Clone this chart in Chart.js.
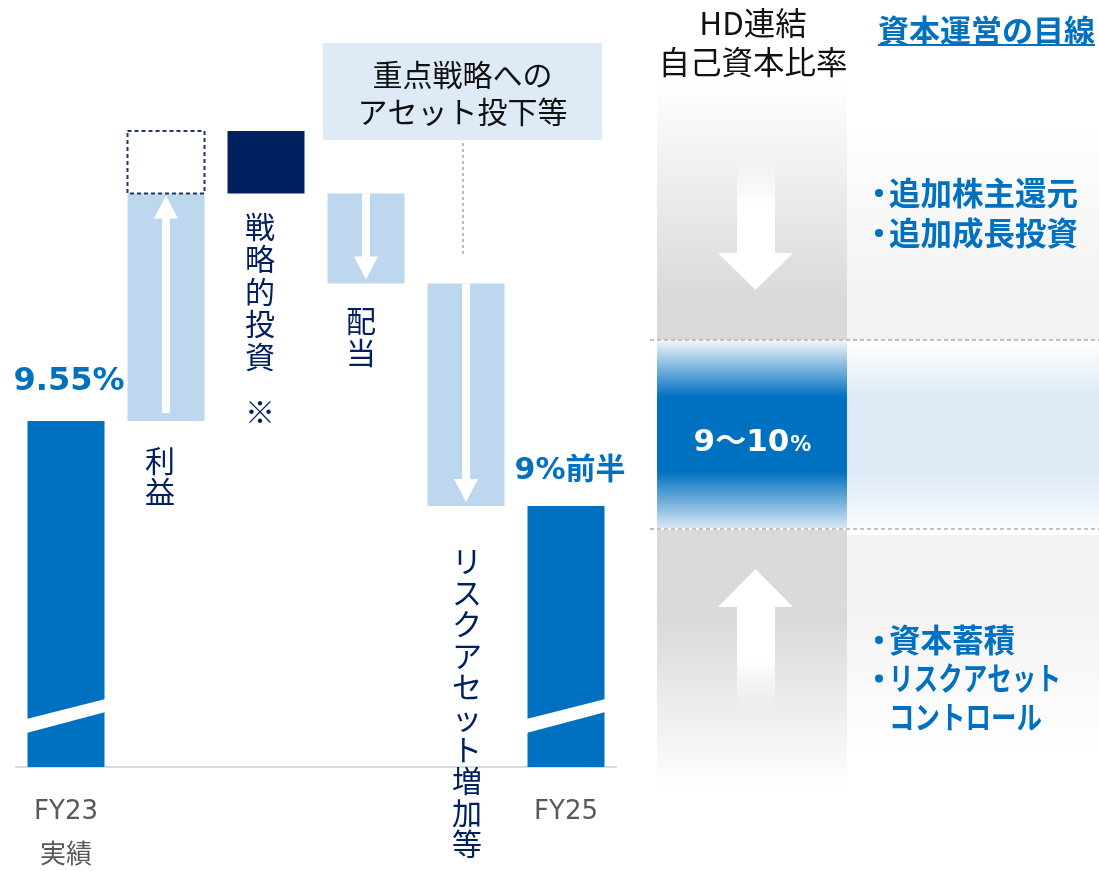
<!DOCTYPE html>
<html lang="ja">
<head>
<meta charset="utf-8">
<script src="https://cdn.jsdelivr.net/npm/chart.js@4"></script>
<style>
html, body { margin: 0; padding: 0; background: #fff; overflow: hidden; }
</style>
</head>
<body>
<canvas id="chart" width="1099" height="871"></canvas>
<script>
// categories of the waterfall
const categories = ['FY23', '利益', '戦略的投資', '配当', 'リスクアセット増加等', 'FY25'];
const tickLabels = [['FY23', '実績'], '', '', '', '', 'FY25'];
// first = FY23 result, then step changes (pt), null = FY25 total
const stepChange = [9.55, 0.91, -0.25, -0.36, -0.89, null];
// part of the profit step drawn as a dashed box
const dashedChange = [null, 0.25, null, null, null, null];
const valueLabels = ['9.55%', '', '', '', '', '9%前半'];
const noteMarks = ['', '', '※', '', '', ''];
// truncated axis (the total bars are drawn broken)
const axisRange = [8.166, 11.234];

const topNote = ['重点戦略への', 'アセット投下等'];
const panelTitle = ['HD連結', '自己資本比率'];
const panelHeading = '資本運営の目線';
const targetRange = ['9～10', '%'];
const upperActions = ['追加株主還元', '追加成長投資'];
const lowerActions = ['資本蓄積', 'リスクアセット', 'コントロール'];

const barColors = ['#0070c0', '#bdd7ee', '#002060', '#bdd7ee', '#bdd7ee', '#0070c0'];
const arrowOn = [false, true, false, true, true, false];
const JP = '"Noto Sans CJK JP", "Noto Sans", sans-serif';
const BLUE = '#0070c0';
const NAVY = '#002060';

// build floating bars from the steps
const solid = [], dashed = [];
let level = 0;
stepChange.forEach((d, i) => {
  if (i === 0 || d === null) {
    if (i === 0) level = d;
    solid.push([axisRange[0], level]);
    dashed.push(null);
  } else {
    const a = level, b = level + d;
    solid.push([Math.min(a, b), Math.max(a, b)]);
    level = b;
    if (dashedChange[i] != null) {
      dashed.push([level, level + dashedChange[i]]);
      level += dashedChange[i];
    } else {
      dashed.push(null);
    }
  }
});

function vText(ctx, str, x, y0, step) {
  [...str].forEach((ch, i) => ctx.fillText(ch, x, y0 + i * step));
}

function drawPanel(ctx) {
  let g;
  // upper band
  g = ctx.createLinearGradient(0, 80, 0, 340);
  g.addColorStop(0, '#ffffff'); g.addColorStop(0.85, '#d9d9d9'); g.addColorStop(1, '#d9d9d9');
  ctx.fillStyle = g; ctx.fillRect(657, 80, 190, 260);
  g = ctx.createLinearGradient(0, 120, 0, 340);
  g.addColorStop(0, '#ffffff'); g.addColorStop(0.8, '#f2f2f2'); g.addColorStop(1, '#f2f2f2');
  ctx.fillStyle = g; ctx.fillRect(847, 120, 252, 220);
  // target band
  g = ctx.createLinearGradient(0, 341, 0, 528);
  g.addColorStop(0, '#eef4fa'); g.addColorStop(0.3, BLUE); g.addColorStop(0.7, BLUE); g.addColorStop(1, '#d8e7f4');
  ctx.fillStyle = g; ctx.fillRect(657, 341, 190, 187);
  g = ctx.createLinearGradient(0, 341, 0, 528);
  g.addColorStop(0, '#ffffff'); g.addColorStop(0.3, '#dde9f5'); g.addColorStop(0.7, '#dde9f5'); g.addColorStop(1, '#fafcfe');
  ctx.fillStyle = g; ctx.fillRect(847, 341, 252, 187);
  // lower band
  g = ctx.createLinearGradient(0, 530, 0, 790);
  g.addColorStop(0, '#d9d9d9'); g.addColorStop(0.35, '#dadada'); g.addColorStop(1, '#ffffff');
  ctx.fillStyle = g; ctx.fillRect(657, 530, 190, 260);
  g = ctx.createLinearGradient(0, 535, 0, 755);
  g.addColorStop(0, '#f2f2f2'); g.addColorStop(0.3, '#f2f2f2'); g.addColorStop(1, '#ffffff');
  ctx.fillStyle = g; ctx.fillRect(847, 535, 252, 220);

  // dashed band limits
  ctx.save();
  ctx.strokeStyle = '#bfbfbf'; ctx.lineWidth = 2; ctx.setLineDash([4, 3]);
  [340, 529].forEach(y => { ctx.beginPath(); ctx.moveTo(650, y); ctx.lineTo(1099, y); ctx.stroke(); });
  ctx.restore();

  // down arrow
  g = ctx.createLinearGradient(0, 155, 0, 205);
  g.addColorStop(0, 'rgba(255,255,255,0)'); g.addColorStop(1, '#ffffff');
  ctx.fillStyle = g;
  ctx.beginPath();
  ctx.moveTo(737, 155); ctx.lineTo(775, 155); ctx.lineTo(775, 253); ctx.lineTo(793, 253);
  ctx.lineTo(755.5, 290); ctx.lineTo(718, 253); ctx.lineTo(737, 253); ctx.closePath(); ctx.fill();
  // up arrow
  g = ctx.createLinearGradient(0, 708, 0, 660);
  g.addColorStop(0, 'rgba(255,255,255,0)'); g.addColorStop(1, '#ffffff');
  ctx.fillStyle = g;
  ctx.beginPath();
  ctx.moveTo(755.5, 569); ctx.lineTo(793, 607); ctx.lineTo(775, 607); ctx.lineTo(775, 708);
  ctx.lineTo(737, 708); ctx.lineTo(737, 607); ctx.lineTo(718, 607); ctx.closePath(); ctx.fill();
}

function drawPanelText(ctx) {
  ctx.textAlign = 'center'; ctx.textBaseline = 'middle';
  ctx.fillStyle = '#111';
  ctx.font = '31.5px ' + JP;
  ctx.fillText(panelTitle[0], 753, 23);
  ctx.fillText(panelTitle[1], 753, 62);

  ctx.textAlign = 'left';
  ctx.fillStyle = BLUE;
  ctx.font = 'bold 31px ' + JP;
  ctx.fillText(panelHeading, 878, 30);
  const w = ctx.measureText(panelHeading).width;
  ctx.fillRect(878, 44, w, 2);

  // kana lines are set narrower in the original, so cap their width
  const bullets = (lines, y0, step, dotted, maxW) => {
    ctx.font = 'bold 31.5px ' + JP;
    lines.forEach((t, i) => {
      const y = y0 + i * step;
      if (dotted[i]) { ctx.beginPath(); ctx.arc(879, y, 4, 0, Math.PI * 2); ctx.fill(); }
      if (maxW[i]) ctx.fillText(t, 889, y, maxW[i]);
      else ctx.fillText(t, 889, y);
    });
  };
  bullets(upperActions, 193, 40, [true, true], [0, 0]);
  bullets(lowerActions, 640, 38.5, [true, true, false], [0, 172, 153]);

  // target label
  ctx.fillStyle = '#fff';
  ctx.font = 'bold 31px "DejaVu Sans", ' + JP;
  const a = ctx.measureText(targetRange[0]).width;
  ctx.font = 'bold 21px "DejaVu Sans", ' + JP;
  const b = ctx.measureText(targetRange[1]).width;
  const x0 = 752 - (a + b) / 2;
  ctx.textBaseline = 'alphabetic';
  ctx.font = 'bold 31px "DejaVu Sans", ' + JP;
  ctx.fillText(targetRange[0], x0, 451);
  ctx.font = 'bold 21px "DejaVu Sans", ' + JP;
  ctx.fillText(targetRange[1], x0 + a + 1, 451);
}

const waterfallDecor = {
  id: 'waterfallDecor',
  beforeDraw(chart) {
    drawPanel(chart.ctx);
  },
  afterDatasetsDraw(chart) {
    const ctx = chart.ctx;
    const bars = chart.getDatasetMeta(0).data;
    const boxes = chart.getDatasetMeta(1).data;
    ctx.save();

    bars.forEach((bar, i) => {
      const x0 = bar.x - bar.width / 2, x1 = bar.x + bar.width / 2;
      const top = Math.min(bar.y, bar.base), bottom = Math.max(bar.y, bar.base);
      // break mark on the truncated totals
      if (i === 0 || stepChange[i] === null) {
        ctx.fillStyle = '#fff';
        ctx.beginPath();
        ctx.moveTo(x0 - 1, bottom - 34); ctx.lineTo(x0 - 1, bottom - 48);
        ctx.lineTo(x1 + 1, bottom - 68); ctx.lineTo(x1 + 1, bottom - 55);
        ctx.closePath(); ctx.fill();
      }
      // white arrows in the step bars
      if (arrowOn[i]) {
        const up = stepChange[i] > 0;
        const tail = up ? bottom - 8 : top;
        const tip = up ? top + 2 : bottom - 4;
        const dir = up ? -1 : 1;
        const neck = tip - dir * 23;
        ctx.fillStyle = '#fff';
        ctx.beginPath();
        ctx.moveTo(bar.x - 4, tail); ctx.lineTo(bar.x + 4, tail);
        ctx.lineTo(bar.x + 4, neck); ctx.lineTo(bar.x + 12, neck);
        ctx.lineTo(bar.x, tip); ctx.lineTo(bar.x - 12, neck);
        ctx.lineTo(bar.x - 4, neck); ctx.closePath(); ctx.fill();
      }
    });

    // dashed box on top of profit
    boxes.forEach((box, i) => {
      if (dashed[i] == null) return;
      const x0 = box.x - box.width / 2;
      const top = Math.min(box.y, box.base), h = Math.abs(box.base - box.y);
      ctx.save();
      ctx.setLineDash([4, 3]); ctx.lineWidth = 2; ctx.strokeStyle = '#203864';
      ctx.strokeRect(x0, top, box.width, h);
      ctx.restore();
    });

    // value labels
    ctx.fillStyle = BLUE; ctx.textAlign = 'center'; ctx.textBaseline = 'alphabetic';
    ctx.font = 'bold 32px "DejaVu Sans", ' + JP;
    ctx.fillText(valueLabels[0], bars[0].x + 3, bars[0].y - 31);
    const last = bars.length - 1;
    ctx.font = 'bold 30px "DejaVu Sans", ' + JP;
    ctx.fillText(valueLabels[last], bars[last].x + 4, bars[last].y - 27);

    // vertical step labels
    ctx.fillStyle = NAVY; ctx.textBaseline = 'middle';
    ctx.font = '30px ' + JP;
    const b1 = bars[1], b2 = bars[2], b3 = bars[3], b4 = bars[4];
    vText(ctx, categories[1], b1.x - 6, Math.max(b1.y, b1.base) + 40, 31);
    vText(ctx, categories[2], b2.x - 6, Math.max(b2.y, b2.base) + 33, 32.4);
    ctx.fillText(noteMarks[2], b2.x - 6, 412);
    vText(ctx, categories[3], b3.x - 5, Math.max(b3.y, b3.base) + 37, 32);
    vText(ctx, categories[4], b4.x + 1, Math.max(b4.y, b4.base) + 55, 31.4);

    // note box at top
    ctx.fillStyle = '#deebf7';
    ctx.fillRect(323, 43, 279, 97);
    ctx.fillStyle = '#111';
    ctx.font = '30px ' + JP;
    ctx.fillText(topNote[0], 462.5, 75);
    ctx.fillText(topNote[1], 462.5, 112);
    ctx.save();
    ctx.strokeStyle = '#a6a6a6'; ctx.lineWidth = 1.5; ctx.setLineDash([3, 3]);
    ctx.beginPath(); ctx.moveTo(463, 143); ctx.lineTo(463, 257); ctx.stroke();
    ctx.restore();

    drawPanelText(ctx);
    ctx.restore();
  }
};

Chart.defaults.font.family = JP;

new Chart(document.getElementById('chart'), {
  type: 'bar',
  data: {
    labels: tickLabels,
    datasets: [{
      label: '自己資本比率',
      data: solid,
      backgroundColor: barColors,
      borderWidth: 0,
      grouped: false,
      barPercentage: 0.77,
      categoryPercentage: 1
    }, {
      label: '利益（点線部）',
      data: dashed,
      backgroundColor: '#ffffff',
      borderWidth: 0,
      grouped: false,
      barPercentage: 0.77,
      categoryPercentage: 1
    }]
  },
  options: {
    responsive: false,
    animation: false,
    devicePixelRatio: 1,
    layout: { padding: { left: 16, right: 483, top: 0, bottom: 0 } },
    plugins: { legend: { display: false }, tooltip: { enabled: false } },
    scales: {
      x: {
        grid: { display: false },
        border: { display: true, color: '#d9d9d9', width: 2 },
        ticks: {
          color: '#595959',
          padding: 15,
          maxRotation: 0,
          autoSkip: false,
          font: { family: '"DejaVu Sans", ' + JP, size: 26, lineHeight: 1.7 }
        },
        afterFit(scale) { scale.height = 104; }
      },
      y: {
        display: false,
        min: axisRange[0],
        max: axisRange[1]
      }
    }
  },
  plugins: [waterfallDecor]
});
</script>
</body>
</html>
